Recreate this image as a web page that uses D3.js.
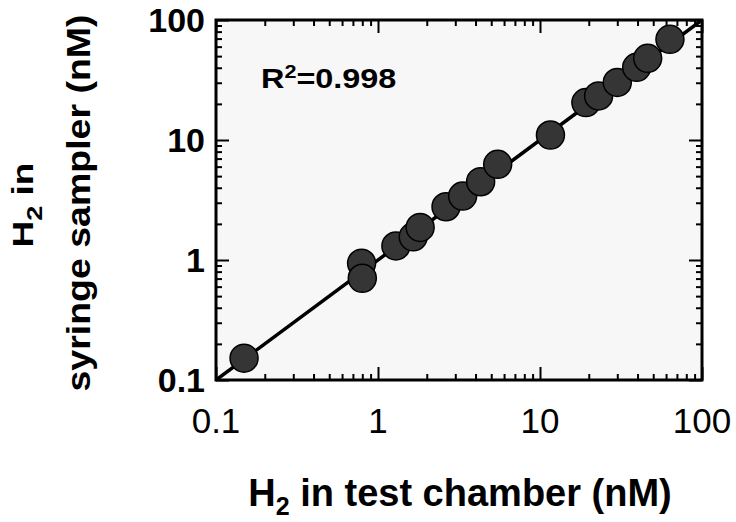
<!DOCTYPE html>
<html><head><meta charset="utf-8">
<script src="https://cdn.jsdelivr.net/npm/d3@7/dist/d3.min.js"></script>
<style>
body{margin:0;background:#fff;}
svg{display:block;font-family:"Liberation Sans",Arial,sans-serif;}
</style></head>
<body><svg id="c" width="736" height="522"></svg>
<script>
const chamber = [0.149, 0.792, 0.80, 1.29, 1.65, 1.82, 2.63, 3.33, 4.30, 5.48, 11.6, 19.2, 23.0, 30.0, 39.5, 46.2, 63.4];
const syringe = [0.152, 0.939, 0.704, 1.31, 1.56, 1.87, 2.78, 3.41, 4.49, 6.27, 11.0, 20.5, 23.3, 30.2, 40.3, 47.9, 69.0];
const tickValues = [0.1, 1, 10, 100];
const tickLabels = ["0.1", "1", "10", "100"];
const fitLine = [0.1, 100];
const r2Text = "0.998";

const svg = d3.select("#c");
const L = 216, R = 702, T = 20, B = 380;
const x = d3.scaleLog().domain([0.1, 100]).range([L, R]);
const y = d3.scaleLog().domain([0.1, 100]).range([B, T]);

svg.append("rect").attr("x", L).attr("y", T).attr("width", R - L).attr("height", B - T).attr("fill", "#f7f7f7");

const minors = [];
for (let d = 0.1; d < 100; d *= 10) for (let k = 2; k <= 9; k++) minors.push(+(d * k).toPrecision(3));

function styleAxis(g) {
  g.select(".domain").remove();
  g.selectAll(".tick line").attr("stroke", "#000").attr("stroke-width", 2);
}
function addAxis(axisFn, scale, transform, vals, size) {
  const g = svg.append("g").attr("transform", transform)
    .call(axisFn(scale).tickValues(vals).tickSize(size).tickFormat(""));
  styleAxis(g);
}
addAxis(d3.axisTop, x, `translate(0,${B})`, tickValues, 13);
addAxis(d3.axisTop, x, `translate(0,${B})`, minors, 6);
addAxis(d3.axisBottom, x, `translate(0,${T})`, tickValues, 13);
addAxis(d3.axisBottom, x, `translate(0,${T})`, minors, 6);
addAxis(d3.axisRight, y, `translate(${L},0)`, tickValues, 13);
addAxis(d3.axisRight, y, `translate(${L},0)`, minors, 6);
addAxis(d3.axisLeft, y, `translate(${R},0)`, tickValues, 13);
addAxis(d3.axisLeft, y, `translate(${R},0)`, minors, 6);

// tick labels
svg.append("g").selectAll("text").data(tickValues).join("text")
  .attr("x", d => x(d)).attr("y", 433).attr("text-anchor", "middle")
  .attr("font-size", 35).attr("fill", "#000")
  .text((d, i) => tickLabels[i]);
svg.append("g").selectAll("text").data(tickValues).join("text")
  .attr("x", 205).attr("y", d => y(d) + 12).attr("text-anchor", "end")
  .attr("font-size", 34).attr("font-weight", "bold").attr("fill", "#000")
  .text((d, i) => tickLabels[i]);

// clip
svg.append("clipPath").attr("id", "clip").append("rect")
  .attr("x", L).attr("y", T).attr("width", R - L).attr("height", B - T);

// fit line
svg.append("line").attr("clip-path", "url(#clip)")
  .attr("x1", x(fitLine[0])).attr("y1", y(fitLine[0]))
  .attr("x2", x(fitLine[1])).attr("y2", y(fitLine[1]))
  .attr("stroke", "#000").attr("stroke-width", 3.5);

// points
svg.append("g").selectAll("circle").data(chamber).join("circle")
  .attr("cx", d => x(d)).attr("cy", (d, i) => y(syringe[i])).attr("r", 14)
  .attr("fill", "#353535").attr("stroke", "#000").attr("stroke-width", 1.5);

// frame
svg.append("rect").attr("x", L).attr("y", T).attr("width", R - L).attr("height", B - T)
  .attr("fill", "none").attr("stroke", "#000").attr("stroke-width", 3);

// R2 text
const rt = svg.append("text").attr("transform", "translate(261,88) scale(1.2,1)").attr("font-size", 27).attr("font-weight", "bold");
rt.append("tspan").text("R");
rt.append("tspan").attr("font-size", 18).attr("dy", -10).text("2");
rt.append("tspan").attr("dy", 10).text("=" + r2Text);

// x axis title
const xt = svg.append("text").attr("x", 460).attr("y", 506).attr("text-anchor", "middle")
  .attr("font-size", 38).attr("font-weight", "bold");
xt.append("tspan").text("H");
xt.append("tspan").attr("font-size", 25).attr("dy", 9).text("2");
xt.append("tspan").attr("dy", -9).text(" in test chamber (nM)");

// y axis title (two lines)
const yt1 = svg.append("text").attr("transform", "translate(33,205) rotate(-90) scale(1,0.82)").attr("text-anchor", "middle")
  .attr("font-size", 37).attr("font-weight", "bold");
yt1.append("tspan").text("H");
yt1.append("tspan").attr("font-size", 27).attr("dy", 11).text("2");
yt1.append("tspan").attr("dy", -11).text(" in");
svg.append("text").attr("transform", "translate(90,203) rotate(-90) scale(1,0.88)").attr("text-anchor", "middle")
  .attr("font-size", 37.5).attr("font-weight", "bold").text("syringe sampler (nM)");
</script></body></html>
